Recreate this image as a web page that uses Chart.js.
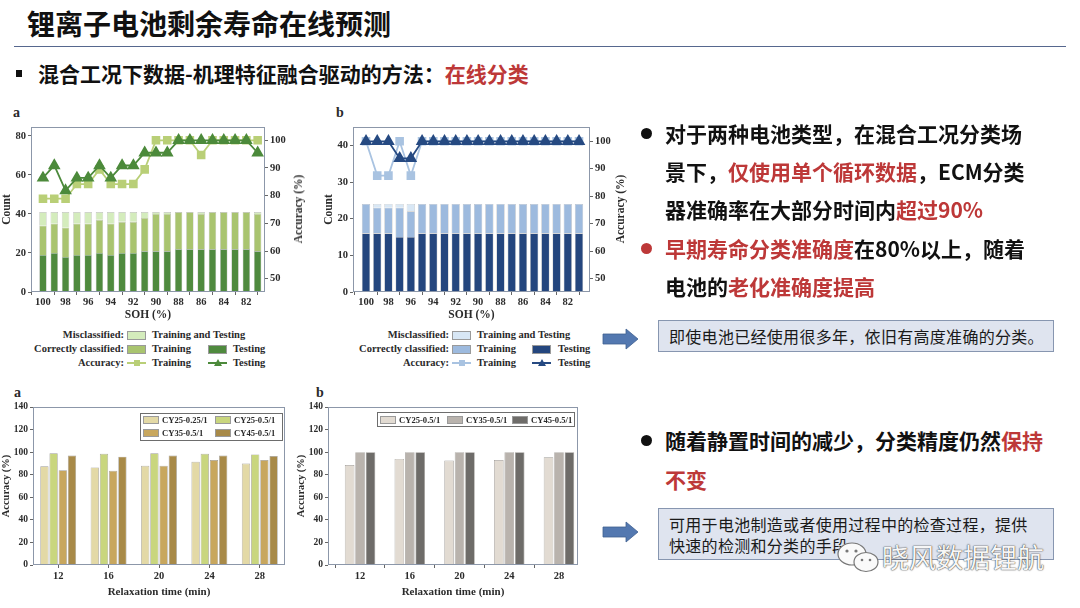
<!DOCTYPE html>
<html>
<head>
<meta charset="utf-8">
<script src="https://cdn.jsdelivr.net/npm/chart.js@4.4.1/dist/chart.umd.min.js"></script>
<style>
  html, body { margin: 0; padding: 0; background: #fff; }
  #slide { position: relative; width: 1080px; height: 608px; overflow: hidden; background: #fff;
           font-family: "Noto Sans CJK SC", "Noto Sans", sans-serif; color: #111; }
  .abs { position: absolute; white-space: nowrap; }
  .cw { position: absolute; }
  .title { left: 27px; top: 5px; font-size: 28px; font-weight: 700; line-height: 36px; }
  .rule { left: 14px; top: 46px; width: 1052px; height: 0; border-top: 1.6px solid #56678e; }
  .sub { left: 38px; top: 59px; font-size: 21px; font-weight: 700; line-height: 28px; }
  .red { color: #bd3838; }
  .pt { font-size: 21px; font-weight: 700; line-height: 38px; height: 38px; left: 665px; }
  .dot { width: 11px; height: 11px; border-radius: 50%; left: 641px; }
  .note { left: 658px; width: 396px; box-sizing: border-box; background: #dfe4ef; border: 1px solid #8796b0;
          font-size: 16px; color: #1a1a1a; padding-left: 10px; letter-spacing: 0.3px; }
  .serif { font-family: "Liberation Serif", "Times New Roman", serif; font-weight: 700; color: #2a2a2a; }
  .lg { font-size: 10.5px; line-height: 14px; height: 14px; }
  .sw { position: absolute; width: 19px; height: 9px; box-sizing: border-box; border: 0.8px solid #9a9a9a; }
  .panel { font-size: 14px; line-height: 16px; }
  .rot { font-size: 11.5px; transform: translate(-50%, -50%) rotate(-90deg); }
  .blg { position: absolute; background: #fff; border: 1px solid #6d6d6d; box-sizing: border-box; }
  .bl { font-size: 8.6px; line-height: 12px; height: 12px; }
</style>
</head>
<body>
<div id="slide">
  <div class="abs title">锂离子电池剩余寿命在线预测</div>
  <div class="abs rule"></div>
  <div class="abs" style="left:16px;top:70px;width:6px;height:7px;background:#111"></div>
  <div class="abs sub">混合工况下数据-机理特征融合驱动的方法：<span class="red">在线分类</span></div>

  <div class="abs serif panel" style="left:13px;top:105px">a</div>
  <div class="abs serif panel" style="left:336px;top:105px">b</div>
  <div class="abs serif panel" style="left:14px;top:385px">a</div>
  <div class="abs serif panel" style="left:316px;top:385px">b</div>

  <div class="cw" style="left:0;top:100px;width:308px;height:224px"><canvas id="chartA"></canvas></div>
  <div class="cw" style="left:322px;top:100px;width:306px;height:224px"><canvas id="chartB"></canvas></div>
  <div class="cw" style="left:0;top:385px;width:300px;height:216px"><canvas id="chartC"></canvas></div>
  <div class="cw" style="left:295px;top:385px;width:300px;height:216px"><canvas id="chartD"></canvas></div>

  <div class="abs serif rot" style="left:298px;top:209px">Accuracy (%)</div>
  <div class="abs serif rot" style="left:620px;top:209px">Accuracy (%)</div>

  <div class="abs dot" style="top:128px;background:#111"></div>
  <div class="abs pt" style="top:114px">对于两种电池类型，在混合工况分类场</div>
  <div class="abs pt" style="top:152px">景下，<span class="red">仅使用单个循环数据</span>，ECM分类</div>
  <div class="abs pt" style="top:190px">器准确率在大部分时间内<span class="red">超过90%</span></div>
  <div class="abs dot" style="top:243px;background:#bd3838"></div>
  <div class="abs pt" style="top:229px"><span class="red">早期寿命分类准确度</span>在80%以上，随着</div>
  <div class="abs pt" style="top:267px">电池的<span class="red">老化准确度提高</span></div>

  <svg class="abs" style="left:602px;top:328px" width="38" height="22"><polygon points="1,6 24,6 24,1 36,11 24,21 24,16 1,16" fill="#5378b0" stroke="#3f5f90" stroke-width="0.8"/></svg>
  <div class="abs note" style="top:320px;height:32px;line-height:30px">即使电池已经使用很多年，依旧有高度准确的分类。</div>

  <div class="abs dot" style="top:435px;background:#111"></div>
  <div class="abs pt" style="top:421px">随着静置时间的减少，分类精度仍然<span class="red">保持</span></div>
  <div class="abs pt" style="top:460px"><span class="red">不变</span></div>

  <svg class="abs" style="left:602px;top:521px" width="38" height="22"><polygon points="1,6 24,6 24,1 36,11 24,21 24,16 1,16" fill="#5378b0" stroke="#3f5f90" stroke-width="0.8"/></svg>
  <div class="abs note" style="top:508px;height:52px;line-height:21px;padding-top:5px">可用于电池制造或者使用过程中的检查过程，提供<br>快速的检测和分类的手段</div>

  <svg class="abs" style="left:836px;top:540px" width="46" height="36">
    <ellipse cx="16" cy="14" rx="14" ry="11" fill="#fafafa" stroke="#777" stroke-width="1.2"/>
    <ellipse cx="30" cy="22" rx="12" ry="9.5" fill="#fafafa" stroke="#777" stroke-width="1.2"/>
    <circle cx="11" cy="11" r="1.6" fill="#777"/><circle cx="20" cy="11" r="1.6" fill="#777"/>
    <circle cx="26" cy="20" r="1.3" fill="#777"/><circle cx="34" cy="20" r="1.3" fill="#777"/>
  </svg>
  <div class="abs" style="left:882px;top:540px;font-size:27px;line-height:34px;color:#f6f6f6;text-shadow:0 0 1.5px #333,0 0 1px #555">晓风数据锂航</div>
</div>

<script>
// ---- data ----
const sohLabels = [100, 99, 98, 97, 96, 95, 94, 93, 92, 91, 90, 89, 88, 87, 86, 85, 84, 83, 82, 81];
const sohTicks = [100, 98, 96, 94, 92, 90, 88, 86, 84, 82];
const countTicksA = [0, 20, 40, 60, 80];
const countTicksB = [0, 10, 20, 30, 40];
const accTicks = [50, 60, 70, 80, 90, 100];

// (a) top: counts per SOH step
const testCorrectA  = [19, 20, 18, 19, 19, 20, 19, 20, 20, 21, 21, 21, 22, 22, 22, 22, 22, 22, 22, 21];
const trainCorrectA = [15, 15, 15, 16, 16, 17, 16, 16, 16, 17, 19, 19, 19, 19, 18, 19, 19, 19, 19, 19];
const misclassA     = [7, 6, 8, 6, 6, 4, 6, 5, 5, 3, 1, 1, 0, 0, 1, 0, 0, 0, 0, 1];
const accTrainA = [78.9, 78.9, 78.9, 84.2, 84.2, 89.5, 84.2, 84.2, 84.2, 89.5, 100, 100, 100, 100, 94.7, 100, 100, 100, 100, 100];
const accTestA  = [86.4, 90.9, 81.8, 86.4, 86.4, 90.9, 86.4, 90.9, 90.9, 95.5, 95.5, 95.5, 100, 100, 100, 100, 100, 100, 100, 95.5];

// (b) top
const testCorrectB  = [16, 16, 16, 15, 15, 16, 16, 16, 16, 16, 16, 16, 16, 16, 16, 16, 16, 16, 16, 16];
const trainCorrectB = [8, 7, 7, 8, 7, 8, 8, 8, 8, 8, 8, 8, 8, 8, 8, 8, 8, 8, 8, 8];
const misclassB     = [0, 1, 1, 1, 2, 0, 0, 0, 0, 0, 0, 0, 0, 0, 0, 0, 0, 0, 0, 0];
const accTrainB = [100, 87.5, 87.5, 100, 87.5, 100, 100, 100, 100, 100, 100, 100, 100, 100, 100, 100, 100, 100, 100, 100];
const accTestB  = [100, 100, 100, 93.8, 93.8, 100, 100, 100, 100, 100, 100, 100, 100, 100, 100, 100, 100, 100, 100, 100];

// bottom: accuracy vs relaxation time
const relaxTime = [12, 16, 20, 24, 28];
const relaxTicks = [0, 20, 40, 60, 80, 100, 120, 140];
const cy25q_A = [87.5, 86.5, 88, 91.5, 90];
const cy25h_A = [99, 98.5, 99, 98.5, 98];
const cy35h_A = [84, 83.5, 88, 93, 93];
const cy45h_A = [97, 96, 97, 97, 96.5];
const cy25_B = [88.5, 94, 92.5, 93, 95.5];
const cy35_B = [100, 100, 100, 100, 100];
const cy45_B = [100, 100, 100, 100, 100];

const GREEN = { test: "#4f8a3e", train: "#a9c46f", misc: "#d4ecbc", accTrain: "#b9cf77", accTest: "#4c8a3b" };
const BLUE  = { test: "#24467e", train: "#9dbade", misc: "#d8e7f5", accTrain: "#a9c3e1", accTest: "#264a82" };
const TAN   = ["#e3d9a6", "#c9d67e", "#c8a75e", "#a88a48"];
const GREY  = ["#e2dbd2", "#b9b3ad", "#6e6c69"];

Chart.defaults.font.family = '"Liberation Serif", "Times New Roman", serif';
Chart.defaults.font.weight = "bold";
Chart.defaults.font.size = 10.5;
Chart.defaults.color = "#2b2b2b";
Chart.defaults.animation = false;

const frame = {
  id: "frame",
  afterDraw(c) {
    const a = c.chartArea, ctx = c.ctx;
    ctx.save();
    ctx.strokeStyle = "#8c97a9"; ctx.lineWidth = 1;
    ctx.strokeRect(Math.round(a.left) + 0.5, Math.round(a.top) + 0.5, Math.round(a.right - a.left) - 1, Math.round(a.bottom - a.top) - 1);
    ctx.restore();
  }
};

const pts = arr => arr.map((v, i) => ({ x: i, y: v }));
const tickGrid = { drawOnChartArea: false, tickLength: 3, color: "#666" };
const setTicks = list => s => { s.ticks = list.map(v => ({ value: v })); };

function topChart(id, d) {
  const c = d.colors;
  const bar = (label, data, col) => ({
    type: "bar", label, data: pts(data), backgroundColor: col, yAxisID: "y", order: 1,
    borderColor: "rgba(70,70,70,0.35)", borderWidth: 0.6, categoryPercentage: d.barFrac, barPercentage: 1
  });
  return new Chart(document.getElementById(id), {
    type: "bar",
    data: {
      datasets: [
        { type: "line", label: "Accuracy Testing", data: pts(d.accTest), yAxisID: "y1", order: 0,
          borderColor: c.accTest, backgroundColor: c.accTest, borderWidth: 1.8,
          pointStyle: "triangle", pointRadius: 5.5, pointBorderColor: c.accTest, clip: false },
        { type: "line", label: "Accuracy Training", data: pts(d.accTrain), yAxisID: "y1", order: 0,
          borderColor: c.accTrain, backgroundColor: c.accTrain, borderWidth: 1.8,
          pointStyle: "rect", pointRadius: 4.8, pointBorderColor: c.accTrain, clip: false },
        bar("Testing", d.test, c.test),
        bar("Training", d.train, c.train),
        bar("Misclassified", d.misc, c.misc),
      ]
    },
    options: {
      responsive: true, maintainAspectRatio: false,
      layout: { padding: { top: 27, left: 0, right: 0, bottom: 0 } },
      plugins: { legend: { display: false }, tooltip: { enabled: false } },
      scales: {
        x: {
          type: "linear", min: d.xMin, max: d.xMax, offset: false, stacked: true,
          afterBuildTicks: setTicks(sohTicks.map(v => sohLabels.indexOf(v))),
          ticks: { callback: v => sohLabels[v], padding: 1, maxRotation: 0, autoSkip: false },
          grid: tickGrid, border: { display: false },
          title: { display: true, text: "SOH (%)", font: { size: 11.5 }, padding: { top: 0, bottom: 2 } },
          afterFit: s => { s.height = 32; }
        },
        y: {
          min: 0, max: d.yMax, stacked: true,
          afterBuildTicks: setTicks(d.yTicks),
          ticks: { padding: 2 },
          grid: tickGrid, border: { display: false },
          title: { display: true, text: "Count", font: { size: 11.5 }, padding: { top: 0, bottom: 2 } },
          afterFit: s => { s.width = 31; }
        },
        y1: {
          position: "right", min: d.accMin, max: d.accMax,
          afterBuildTicks: setTicks(accTicks),
          ticks: { padding: 2 },
          grid: tickGrid, border: { display: false },
          afterFit: s => { s.width = d.rightW; }
        }
      }
    },
    plugins: [frame]
  });
}

topChart("chartA", {
  colors: GREEN, test: testCorrectA, train: trainCorrectA, misc: misclassA,
  accTrain: accTrainA, accTest: accTestA, yTicks: countTicksA,
  xMin: -1.06, xMax: 19.65, yMax: 84.6, accMin: 45.2, accMax: 104.8, rightW: 43, barFrac: 0.66
});
topChart("chartB", {
  colors: BLUE, test: testCorrectB, train: trainCorrectB, misc: misclassB,
  accTrain: accTrainB, accTest: accTestB, yTicks: countTicksB,
  xMin: -1.16, xMax: 19.98, yMax: 45, accMin: 45.1, accMax: 105.2, rightW: 38, barFrac: 0.74
});

function bottomChart(id, xScale, sets, cat, barP, rightPad) {
  return new Chart(document.getElementById(id), {
    type: "bar",
    data: {
      labels: relaxTime,
      datasets: sets.map(([label, data, col]) => ({
        label, data: xScale.type === "linear" ? data.map((v, i) => ({ x: relaxTime[i], y: v })) : data,
        backgroundColor: col, borderColor: "rgba(80,75,65,0.55)", borderWidth: 0.7,
        categoryPercentage: cat, barPercentage: barP
      }))
    },
    options: {
      responsive: true, maintainAspectRatio: false,
      layout: { padding: { top: 22, right: rightPad, left: 0, bottom: 0 } },
      plugins: { legend: { display: false }, tooltip: { enabled: false } },
      scales: {
        x: Object.assign({
          ticks: { padding: 2, maxRotation: 0, autoSkip: false },
          grid: tickGrid, border: { display: false },
          title: { display: true, text: "Relaxation time (min)", font: { size: 11 }, padding: { top: 0, bottom: 2 } },
          afterFit: s => { s.height = 36; }
        }, xScale),
        y: {
          min: 0, max: 140,
          afterBuildTicks: setTicks(relaxTicks),
          ticks: { padding: 2, font: { size: 9.5 } },
          grid: tickGrid, border: { display: false },
          title: { display: true, text: "Accuracy (%)", font: { size: 10.5 }, padding: { top: 0, bottom: 2 } },
          afterFit: s => { s.width = 33; }
        }
      }
    },
    plugins: [frame]
  });
}

bottomChart("chartC", { type: "category", offset: true, grid: Object.assign({ offset: false }, tickGrid) }, [
  ["CY25-0.25/1", cy25q_A, TAN[0]], ["CY25-0.5/1", cy25h_A, TAN[1]],
  ["CY35-0.5/1", cy35h_A, TAN[2]], ["CY45-0.5/1", cy45h_A, TAN[3]]
], 0.73, 0.9, 15);

bottomChart("chartD", { type: "linear", min: 9.42, max: 29.53, offset: false, afterBuildTicks: setTicks(relaxTime) }, [
  ["CY25-0.5/1", cy25_B, GREY[0]], ["CY35-0.5/1", cy35_B, GREY[1]], ["CY45-0.5/1", cy45_B, GREY[2]]
], 0.63, 0.92, 17);

// ---- HTML legends ----
const slide = document.getElementById("slide");
const txt = (x, y, s, cls, w, align) =>
  `<div class="abs serif ${cls}" style="left:${x}px;top:${y - 7}px;${w ? "width:" + w + "px;" : ""}text-align:${align || "left"}">${s}</div>`;
const boxSw = (x, y, col, w, h) =>
  `<div class="sw" style="left:${x}px;top:${y - (h || 9) / 2}px;width:${w || 19}px;height:${h || 9}px;background:${col}"></div>`;
function lineSw(x, y, col, kind) {
  let m = kind === "sq"
    ? `<div class="abs" style="left:${x + 6.5}px;top:${y - 3}px;width:6px;height:6px;background:${col}"></div>`
    : `<div class="abs" style="left:${x + 5.5}px;top:${y - 4.5}px;width:0;height:0;border-left:4px solid transparent;border-right:4px solid transparent;border-bottom:7px solid ${col}"></div>`;
  return `<div class="abs" style="left:${x}px;top:${y - 0.8}px;width:19px;height:1.6px;background:${col}"></div>` + m;
}
function topLegend(p, c) {
  const rows = [335, 349, 363];
  const heads = ["Misclassified:", "Correctly classified:", "Accuracy:"];
  let h = heads.map((s, i) => txt(p.labelRight - 160, rows[i], s, "lg", 160, "right")).join("");
  h += boxSw(p.box1, rows[0], c.misc) + txt(p.text1, rows[0], "Training and Testing", "lg");
  h += boxSw(p.box1, rows[1], c.train) + txt(p.text1, rows[1], "Training", "lg");
  h += boxSw(p.box2, rows[1], c.test) + txt(p.text2, rows[1], "Testing", "lg");
  h += lineSw(p.box1, rows[2], c.accTrain, "sq") + txt(p.text1, rows[2], "Training", "lg");
  h += lineSw(p.box2, rows[2], c.accTest, "tri") + txt(p.text2, rows[2], "Testing", "lg");
  slide.insertAdjacentHTML("beforeend", h);
}
topLegend({ labelRight: 124, box1: 127, text1: 152, box2: 208, text2: 233 }, GREEN);
topLegend({ labelRight: 449, box1: 452, text1: 477, box2: 532, text2: 558 }, BLUE);

function bottomLegend(box, items) {
  let h = `<div class="blg" style="left:${box[0]}px;top:${box[1]}px;width:${box[2]}px;height:${box[3]}px"></div>`;
  items.forEach(([x, y, label, col]) => { h += boxSw(x, y, col, 16, 8) + txt(x + 19, y + 1, label, "bl"); });
  slide.insertAdjacentHTML("beforeend", h);
}
bottomLegend([140, 413, 143, 28], [
  [143, 420, "CY25-0.25/1", TAN[0]], [215, 420, "CY25-0.5/1", TAN[1]],
  [143, 433, "CY35-0.5/1", TAN[2]], [215, 433, "CY45-0.5/1", TAN[3]]
]);
bottomLegend([377, 412, 198, 15], [
  [380, 419.5, "CY25-0.5/1", GREY[0]], [447, 419.5, "CY35-0.5/1", GREY[1]], [512, 419.5, "CY45-0.5/1", GREY[2]]
]);
</script>
</body>
</html>
